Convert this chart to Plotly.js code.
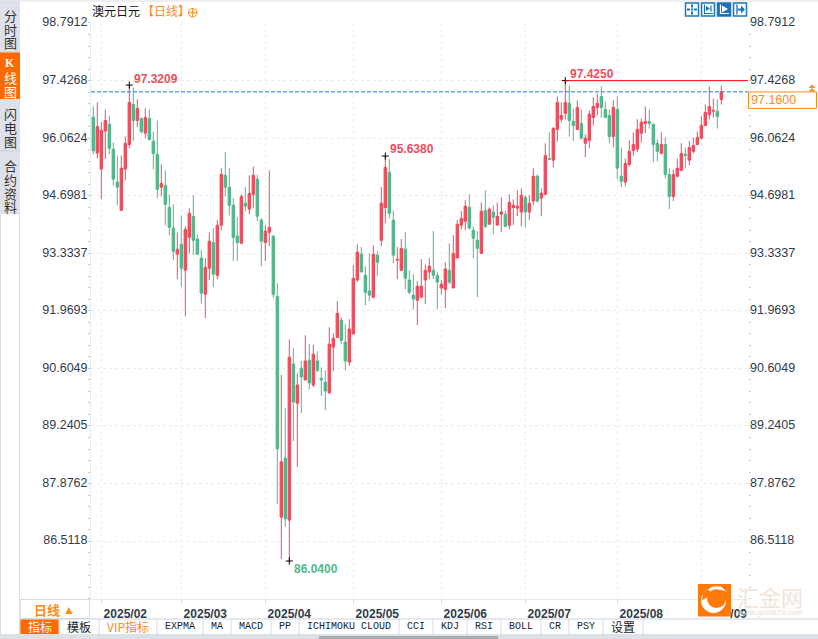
<!DOCTYPE html>
<html><head><meta charset="utf-8">
<script src="https://cdn.plot.ly/plotly-3.0.1.min.js"></script>
<style>html,body{margin:0;padding:0;background:#fff;overflow:hidden}#c{width:818px;height:639px}</style>
</head><body><div id="c"></div>
<script>
const dates = ["2025-01-30","2025-01-31",
"2025-02-03","2025-02-04","2025-02-05","2025-02-06","2025-02-07","2025-02-10","2025-02-11","2025-02-12","2025-02-13","2025-02-14","2025-02-17","2025-02-18","2025-02-19","2025-02-20","2025-02-21","2025-02-24","2025-02-25","2025-02-26","2025-02-27","2025-02-28",
"2025-03-03","2025-03-04","2025-03-05","2025-03-06","2025-03-07","2025-03-10","2025-03-11","2025-03-12","2025-03-13","2025-03-14","2025-03-17","2025-03-18","2025-03-19","2025-03-20","2025-03-21","2025-03-24","2025-03-25","2025-03-26","2025-03-27","2025-03-28","2025-03-31",
"2025-04-01","2025-04-02","2025-04-03","2025-04-04","2025-04-07","2025-04-08","2025-04-09","2025-04-10","2025-04-11","2025-04-14","2025-04-15","2025-04-16","2025-04-17","2025-04-18","2025-04-21","2025-04-22","2025-04-23","2025-04-24","2025-04-25","2025-04-28","2025-04-29","2025-04-30",
"2025-05-01","2025-05-02","2025-05-05","2025-05-06","2025-05-07","2025-05-08","2025-05-09","2025-05-12","2025-05-13","2025-05-14","2025-05-15","2025-05-16","2025-05-19","2025-05-20","2025-05-21","2025-05-22","2025-05-23","2025-05-26","2025-05-27","2025-05-28","2025-05-29","2025-05-30",
"2025-06-02","2025-06-03","2025-06-04","2025-06-05","2025-06-06","2025-06-09","2025-06-10","2025-06-11","2025-06-12","2025-06-13","2025-06-16","2025-06-17","2025-06-18","2025-06-19","2025-06-20","2025-06-23","2025-06-24","2025-06-25","2025-06-26","2025-06-27","2025-06-30",
"2025-07-01","2025-07-02","2025-07-03","2025-07-04","2025-07-07","2025-07-08","2025-07-09","2025-07-10","2025-07-11","2025-07-14","2025-07-15","2025-07-16","2025-07-17","2025-07-18","2025-07-21","2025-07-22","2025-07-23","2025-07-24","2025-07-25","2025-07-28","2025-07-29","2025-07-30","2025-07-31",
"2025-08-01","2025-08-04","2025-08-05","2025-08-06","2025-08-07","2025-08-08","2025-08-11","2025-08-12","2025-08-13","2025-08-14","2025-08-15","2025-08-18","2025-08-19","2025-08-20","2025-08-21","2025-08-22","2025-08-25","2025-08-26","2025-08-27","2025-08-28","2025-08-29",
"2025-09-01","2025-09-02","2025-09-03","2025-09-04","2025-09-05","2025-09-08"];
const openV = [
96.56,95.71,95.33,96.23,96.39,95.80,95.02,94.35,95.33,95.91,
96.86,96.48,96.53,96.18,96.53,95.99,95.68,94.90,94.94,94.42,
93.93,93.31,93.55,92.93,93.71,94.21,93.67,93.22,92.36,92.98,
93.59,92.81,94.00,95.18,94.90,94.47,93.74,93.57,94.52,94.38,
94.73,95.09,94.12,93.59,93.83,93.74,92.31,87.08,88.48,87.01,
90.71,89.78,90.61,90.33,90.80,90.21,90.78,90.37,90.28,90.02,
91.11,91.34,91.75,91.23,90.75,91.42,92.70,93.31,92.81,92.44,
92.29,93.29,93.64,94.42,95.25,94.12,93.17,92.93,93.43,92.70,
92.34,92.22,92.29,92.70,92.89,92.93,92.81,92.51,92.48,92.93,
92.51,93.22,94.00,94.09,94.42,93.88,93.64,93.33,94.35,94.02,
94.31,94.00,94.26,94.26,94.00,94.42,94.40,94.31,94.66,94.31,
94.57,95.16,94.64,94.73,95.58,95.54,96.27,96.51,96.65,96.89,
96.46,96.27,96.41,95.94,96.01,96.55,96.79,97.05,96.74,96.60,
96.10,96.74,95.16,95.02,95.44,95.77,95.80,96.18,96.41,96.46,
96.39,95.94,95.70,95.91,95.20,94.68,95.16,95.30,95.68,95.54,
95.75,95.91,96.06,96.36,96.62,96.70,96.70,96.98];
const closeV = [
95.76,96.34,96.25,96.48,95.82,95.09,94.90,95.35,95.94,96.91,
96.48,96.77,96.22,96.55,96.03,95.70,94.85,94.99,94.49,93.95,
93.38,93.43,92.98,93.90,94.28,93.64,93.31,92.39,93.00,93.62,
92.84,94.00,95.20,94.90,94.47,93.71,93.59,94.68,94.45,94.75,
95.18,94.21,93.62,93.86,93.95,92.36,88.70,88.39,87.04,90.87,
89.81,90.21,90.40,90.78,90.26,90.94,90.56,90.33,90.07,91.18,
91.32,91.91,91.27,90.78,91.54,92.74,93.36,92.89,92.41,92.34,
93.31,93.12,94.52,95.37,94.28,93.29,93.19,93.45,92.74,92.41,
92.25,92.55,92.55,92.93,93.03,92.81,92.65,92.60,92.96,92.65,
93.33,94.02,94.16,94.45,93.93,93.69,93.45,94.33,93.97,94.38,
94.19,94.21,94.31,93.97,94.54,94.47,94.45,94.71,94.31,94.52,
95.16,94.57,94.76,95.65,95.56,96.29,96.91,96.60,96.91,96.48,
96.36,96.79,96.06,96.06,96.63,96.81,96.89,96.79,96.55,96.10,
96.79,95.35,95.04,95.46,95.75,95.91,96.27,96.44,96.46,96.41,
95.91,95.75,95.91,95.20,94.68,95.20,95.35,95.70,95.65,95.84,
95.89,96.08,96.36,96.67,96.81,96.72,96.58,97.16];
const highV = [
96.81,96.91,96.44,96.74,96.60,95.96,95.65,95.65,96.10,97.3209,
97.26,96.98,96.55,96.77,96.74,96.22,96.48,95.44,95.30,94.73,
94.49,93.83,94.23,93.97,94.40,94.71,93.78,93.41,93.22,93.83,
93.93,94.12,95.35,95.73,95.35,94.64,94.19,94.73,94.90,95.18,
95.39,95.20,94.16,94.00,95.30,93.76,92.62,90.45,89.66,91.29,
91.08,90.49,90.78,91.39,91.18,91.16,91.01,90.63,90.56,91.58,
91.44,92.20,91.82,91.65,91.77,93.05,93.55,93.48,93.03,93.33,
93.52,93.38,94.90,95.638,95.56,94.35,93.48,93.67,93.83,92.93,
92.84,92.67,93.19,93.07,93.22,93.86,92.89,92.70,93.12,93.57,
93.76,94.12,94.33,94.59,94.73,93.97,93.86,94.54,94.83,94.42,
94.47,94.54,94.66,94.35,94.73,94.61,94.83,94.87,94.71,94.71,
95.35,95.20,94.87,95.94,96.20,96.33,97.05,96.91,97.425,97.31,
96.77,96.96,96.74,96.15,96.72,97.03,97.12,97.29,96.93,96.74,
96.96,97.05,95.84,95.58,96.01,96.20,96.51,96.53,96.81,96.74,
96.41,96.03,96.20,96.08,95.35,95.32,95.58,95.94,95.84,95.99,
96.08,96.22,96.58,96.86,97.29,97.00,96.98,97.31];
const lowV = [
95.68,95.58,94.62,95.57,95.68,94.94,94.47,94.35,95.06,95.82,
95.99,96.32,96.17,96.06,96.01,95.32,94.64,94.68,94.00,93.76,
93.17,92.72,92.53,91.84,93.33,93.29,93.29,92.14,91.80,92.70,
92.53,92.72,93.88,94.68,94.23,93.15,93.15,93.57,94.33,94.26,
94.40,94.09,93.03,93.15,93.50,92.27,87.39,86.09,86.85,86.04,
88.88,88.27,89.55,90.33,90.11,90.16,90.52,89.95,89.62,90.02,
90.54,91.32,91.18,90.56,90.66,91.42,92.65,92.89,92.10,92.20,
92.27,92.79,93.50,94.04,94.16,93.10,92.72,92.91,92.48,92.36,
91.99,91.63,92.29,92.13,92.72,92.72,92.01,92.36,92.03,92.60,
92.51,93.22,93.90,93.88,93.90,93.22,92.29,93.33,93.93,94.02,
93.78,94.00,93.83,93.95,93.90,94.00,94.21,93.97,93.95,94.12,
94.47,94.54,94.21,94.71,95.56,95.37,95.98,96.44,96.51,96.10,
95.99,96.27,96.03,95.61,95.82,96.36,96.60,96.55,96.55,95.94,
95.84,95.09,94.90,94.92,95.39,95.65,95.73,95.96,96.18,96.29,
95.49,95.51,95.68,95.11,94.38,94.57,95.13,95.28,95.35,95.42,
95.70,95.89,96.03,96.36,96.51,96.55,96.29,96.86];

const yTickVals = [98.7912,97.4268,96.0624,94.6981,93.3337,91.9693,90.6049,89.2405,87.8762,86.5118];
const yTickText = ["98.7912","97.4268","96.0624","94.6981","93.3337","91.9693","90.6049","89.2405","87.8762","86.5118"];
const xTickVals = ["2025-02-03","2025-03-03","2025-04-01","2025-05-01","2025-06-02","2025-07-01","2025-08-01","2025-09-01"];
const xTickText = ["2025/02","2025/03","2025/04","2025/05","2025/06","2025/07","2025/08",'<span style="color:rgba(0,0,0,0)">2025</span>/09'];
const extremeDates = ["2025-02-12","2025-05-13","2025-07-15","2025-04-09"];
const extremeVals = [97.3209,95.6380,97.4250,86.0400];
const lastPrice = 97.16;
const tabNames = ["指标","模板","VIP指标","EXPMA","MA","MACD","PP","ICHIMOKU CLOUD","CCI","KDJ","RSI","BOLL","CR","PSY","设置"];

const RED="#f04c5e", GREEN="#52b78a", ORANGE="#ff8a14", BLUE="#1a75bb", TXT="#2f3b4e";
const L=91,R=748,T=22.5,B=599,W=818,H=639;
const X=p=>(p-L)/(R-L), Y=p=>1-(p-T)/(B-T);
const shapes=[],ann=[];
const CJK='"Noto Sans CJK SC",sans-serif', SANS='"Liberation Sans",Arial,sans-serif', MONO='"Liberation Mono",monospace';
function rect(x0,y0,x1,y1,fill,stroke,lw,layer){shapes.push({type:'rect',xref:'paper',yref:'paper',x0:X(x0),x1:X(x1),y0:Y(y1),y1:Y(y0),fillcolor:fill||'rgba(0,0,0,0)',line:{color:stroke||'rgba(0,0,0,0)',width:stroke?(lw||1):0},layer:layer||'above'});}
function circ(cx,cy,r,fill,stroke,lw){shapes.push({type:'circle',xref:'paper',yref:'paper',x0:X(cx-r),x1:X(cx+r),y0:Y(cy+r),y1:Y(cy-r),fillcolor:fill||'rgba(0,0,0,0)',line:{color:stroke||'rgba(0,0,0,0)',width:stroke?(lw||1):0},layer:'above'});}
function poly(pts,fill,stroke,lw,close){const d=pts.map((p,i)=>(i?'L':'M')+X(p[0]).toFixed(5)+' '+Y(p[1]).toFixed(5)).join(' ')+(close?' Z':'');shapes.push({type:'path',xref:'paper',yref:'paper',path:d,fillcolor:fill||'rgba(0,0,0,0)',line:{color:stroke||'rgba(0,0,0,0)',width:stroke?(lw||1):0},layer:'above'});}
function txt(t,px,py,o){o=o||{};ann.push({xref:'paper',yref:'paper',x:X(px),y:Y(py),text:t,showarrow:false,xanchor:o.a||'center',yanchor:'middle',borderpad:0,font:{family:o.f||CJK,size:o.s||12,color:o.c||'#222',weight:o.w||'normal'}});}

// sidebar
rect(0,0,20,214,'#dfe1ea');
rect(0,0,818,1,'#d9dde5');
rect(0,214,1,634,'#d6dbe2');
rect(19,214,20,634,'#d6dbe2');
rect(0,51,20,52,'#cfd3dc');
rect(0,52,20,98.5,'#ff6a00');
rect(0,150,20,151,'#cfd3dc');
[["分",15],["时",29],["图",42],["闪",113],["电",127],["图",141],["合",165],["约",179],["资",193],["料",206]].forEach(a=>txt(a[0],10,a[1],{s:13,c:'#333'}));
txt("K",10,63,{s:12,c:'#fff',f:'"Liberation Serif",serif',w:'bold'});txt("线",10,77,{s:13,c:'#fff'});txt("图",10,91,{s:13,c:'#fff'});

// title
txt("澳元日元",91,10,{a:'left',s:12,c:'#111'});
txt("【日线】",141,10,{a:'left',s:12,c:ORANGE});
circ(192.7,12.2,4.2,null,ORANGE,1);poly([[188.5,12.2],[197,12.2]],null,ORANGE,1);poly([[192.7,8],[192.7,16.4]],null,ORANGE,1);

// toolbar buttons
rect(685.5,2.5,698.5,15.5,'#fff',BLUE,1.5);
rect(691,4,693,7,BLUE);rect(691,11,693,14,BLUE);rect(687,8,690,10,BLUE);rect(694,8,697,10,BLUE);rect(691,8,693,10,BLUE);
rect(701.5,2.5,714.5,15.5,'#fff',BLUE,1.5);
poly([[704.5,4],[704.5,13],[713,13]],null,BLUE,1.2);poly([[711,5],[711,11]],null,BLUE,1.2);poly([[710,8],[706,5.5],[706,10.5]],BLUE,null,0,true);
rect(717.5,2.5,730.5,15.5,BLUE,BLUE,1.5);
poly([[720.5,4],[720.5,13],[729,13]],null,'#fff',1.2);poly([[722,5],[728,8.5],[722,12]],'#fff',null,0,true);
rect(733.5,2.5,746.5,15.5,'#fff',BLUE,1.5);
poly([[737,4],[737,14]],null,BLUE,1.4);rect(738,8,741,10,BLUE);poly([[741,5],[745,9],[741,13]],BLUE,null,0,true);

// guide lines
shapes.push({type:'line',xref:'paper',yref:'y',x0:0,x1:1,y0:lastPrice,y1:lastPrice,line:{color:'#1c7fe3',width:1,dash:'4px,2px'},layer:'above'});
shapes.push({type:'line',xref:'x',yref:'y',x0:extremeDates[2],x1:163.675,y0:extremeVals[2],y1:extremeVals[2],line:{color:'#f00',width:1},layer:'above'});

// last price tag
rect(748.5,91.5,816.5,108,'#fff',ORANGE,1);
txt("97.1600",749.5,100,{a:'left',f:SANS,s:12.5,c:ORANGE});
poly([[812,84],[815.5,87.5],[808.5,87.5]],ORANGE,null,0,true);poly([[812,87.5],[815.5,91],[808.5,91]],ORANGE,null,0,true);

// extreme labels
const extCol=[RED,RED,RED,GREEN], extDx=[3,3,3,3], extDy=[6.5,7.5,7,-8];
extremeVals.forEach((v,i)=>ann.push({xref:'x',yref:'y',x:extremeDates[i],y:v,text:v.toFixed(4),showarrow:false,xanchor:'left',yanchor:'middle',xshift:extDx[i],yshift:extDy[i],font:{family:SANS,size:12,color:extCol[i],weight:'bold'}}));

// period row and tabs
rect(20,599.5,89.5,618.5,'#fff','#d3dae1',1);
txt("日线",47,610,{s:13,c:ORANGE,w:'bold'});
txt("▲",69,610,{s:12,c:ORANGE,f:SANS});
const seps=[20,59,99,157,203,231,271,299,399,433,467,501,541,569,603,643];
rect(20,618.5,818,619.5,'#ccd4db');
rect(0,634,818,639,'#dbe1e7');
rect(319,636,498,639,'#a9adb2');
rect(20,619.5,59,634,'#ff6a00');
seps.forEach(s=>rect(s-0.5,619,s+0.5,634,'#d3dae1'));
tabNames.forEach((n,i)=>{
  const cx=(seps[i]+seps[i+1])/2;
  const ascii=/^[A-Z ]+$/.test(n);
  txt(n,cx,627,{s:ascii?10:12,f:ascii?MONO:CJK,c:i===0?'#fff':(i===2?ORANGE:'#222')});
});

// logo
rect(698,584,731,616.5,'#ff7a0a');
circ(713.5,600.5,12.5,'#fff');
circ(716.5,598.5,9.5,'#ff7a0a');
poly([[707,590],[713,586.5],[721,586.5],[727,592],[722,590],[715,589],[707,590]],'#fff',null,0,true);
poly([[702,600],[703,593],[708,589],[712,594],[706,598]],'#ff7a0a',null,0,true);
circ(715.5,598.5,4,'#ff7a0a');
txt("汇金网",770,596,{s:22,c:'#f1e3d7'});
txt("www.gold678.com",770,613,{s:8,c:'#ebe0d5',f:SANS});

const candle={type:'candlestick',x:dates,open:openV,high:highV,low:lowV,close:closeV,
  increasing:{line:{color:RED,width:1},fillcolor:RED},
  decreasing:{line:{color:GREEN,width:1},fillcolor:GREEN},
  whiskerwidth:0,hoverinfo:'skip',showlegend:false};
const marks={type:'scatter',mode:'markers',x:extremeDates,y:extremeVals,yaxis:'y2',cliponaxis:false,
  marker:{symbol:'cross-thin',size:5,line:{color:'#000',width:1},color:'#000'},hoverinfo:'skip',showlegend:false};
const yr=[85.14,98.7912];
const minor={tick0:86.5118,dtick:1.3644/5,ticks:'outside',ticklen:2,tickwidth:1,tickcolor:'#c4c8cc',showgrid:false};
const yFont={family:SANS,size:12.5,color:TXT};
const layout={width:W,height:H,autosize:false,margin:{l:L,r:W-R,t:T,b:H-B,pad:0},
  paper_bgcolor:'#fff',plot_bgcolor:'#fff',showlegend:false,boxgap:0.4,boxgroupgap:0,dragmode:false,
  xaxis:{type:'category',categoryorder:'trace',range:[-0.575,163.675],rangeslider:{visible:false},
    tickmode:'array',tickvals:xTickVals,ticktext:xTickText,ticks:'outside',ticklen:4,tickcolor:'#d8dde2',
    ticklabelshift:24,tickangle:0,tickfont:{family:SANS,size:12,color:TXT,weight:'bold'},
    showgrid:true,gridcolor:'#ececec',griddash:'dot',gridwidth:1,showline:true,linecolor:'#e4ebf0',linewidth:1,zeroline:false,fixedrange:true},
  yaxis:{range:yr,tickmode:'array',tickvals:yTickVals,ticktext:yTickText,tickfont:yFont,ticks:'',ticklabelshift:-1,
    minor:minor,showgrid:true,gridcolor:'#ececec',griddash:'dot',gridwidth:1,showline:true,linecolor:'#e4ebf0',linewidth:1,zeroline:false,fixedrange:true},
  yaxis2:{range:yr,overlaying:'y',side:'right',anchor:'x',tickmode:'array',tickvals:yTickVals,ticktext:yTickText,tickfont:yFont,ticks:'',ticklabelshift:-1,ticklabelstandoff:1,
    minor:minor,showgrid:false,showline:false,zeroline:false,fixedrange:true},
  shapes:shapes,annotations:ann};
Plotly.newPlot('c',[candle,marks],layout,{displayModeBar:false,staticPlot:true});
</script></body></html>
